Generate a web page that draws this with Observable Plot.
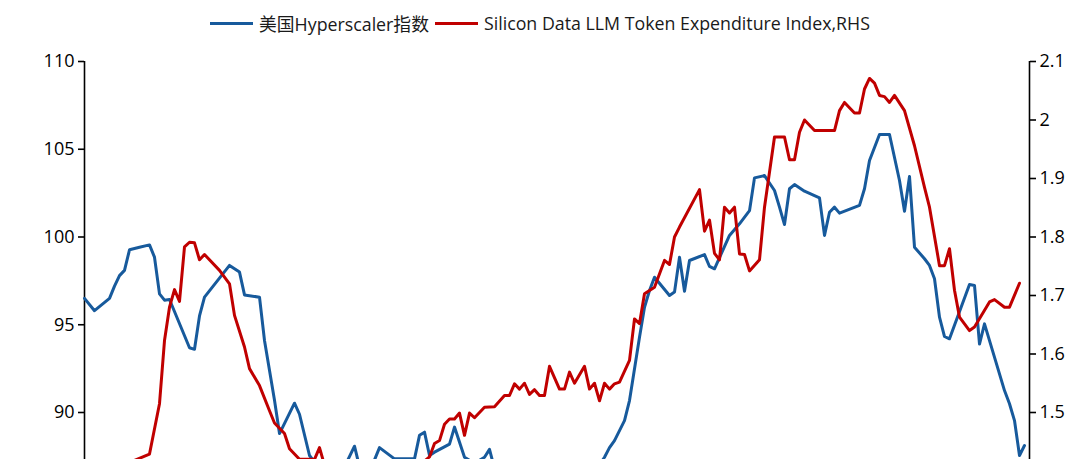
<!DOCTYPE html>
<html><head><meta charset="utf-8">
<script src="https://cdn.jsdelivr.net/npm/d3@7"></script>
<script src="https://cdn.jsdelivr.net/npm/@observablehq/plot@0.6"></script>
<style>
html,body{margin:0;padding:0;background:#fff;overflow:hidden;}
body{width:1080px;font-family:"Open Sans","Noto Sans CJK SC",sans-serif;}
#legend{height:46px;display:flex;justify-content:center;align-items:center;font-size:17.8px;color:#1a1a1a;}
.item{display:flex;align-items:center;margin:0 3px;}
.sw{width:43px;height:3px;margin-right:6px;}
</style></head>
<body>
<div id="legend"></div>
<div id="chart"></div>
<script>
const seriesNames = ["美国Hyperscaler指数", "Silicon Data LLM Token Expenditure Index,RHS"];
const seriesColors = ["#175A9C", "#C00000"];

const blueT = [0,2,5,6,7,8,9,11,13,14,15,16,17,21,22,23,24,29,31,32,35,36,38,39,42,43,45,47,50,52,54,55,57,59,62,66,67,68,69,70,73,74,76,78,80,81,82,86,92,98,102,104,105,106,108,109,111,112,113,114,117,118,119,120,121,124,125,126,129,131,133,134,136,138,139,140,141,142,144,147,148,149,150,151,155,156,157,159,161,163,164,165,166,168,169,170,171,172,173,177,178,179,180,184,185,186,187,188];
const blueV = [96.5,95.8,96.5,97.2,97.8,98.1,99.27,99.42,99.55,98.85,96.76,96.4,96.44,93.69,93.6,95.5,96.57,98.38,98.0,96.7,96.57,94.1,90.7,88.8,90.53,89.9,87.55,86.8,86.4,86.9,88.08,86.9,86.6,88.0,87.36,87.36,88.7,88.88,87.55,87.74,88.2,89.17,87.45,87.1,87.45,87.9,86.8,86.3,85.8,86.0,86.6,87.45,88.0,88.4,89.54,90.68,94.29,96.0,96.95,97.71,96.67,96.86,98.85,96.91,98.66,99.0,98.32,98.19,100.09,100.75,101.5,103.37,103.5,102.65,101.7,100.71,102.75,102.99,102.61,102.23,100.09,101.41,101.7,101.36,101.8,102.75,104.36,105.84,105.84,103.22,101.47,103.45,99.42,98.76,98.38,97.62,95.43,94.33,94.2,97.29,97.24,93.9,95.05,91.25,90.5,89.54,87.55,88.12];

const redT = [0,4,7,10,13,15,16,17,18,19,20,21,22,23,24,27,29,30,32,33,35,37,38,40,41,42,43,46,47,48,52,58,63,67,69,70,71,72,73,74,75,76,77,78,80,82,84,85,86,87,88,89,90,91,92,93,95,96,97,98,100,101,102,103,104,105,106,107,109,110,111,112,114,116,117,118,119,123,124,125,126,127,128,129,130,131,132,133,135,136,138,140,141,142,143,144,146,150,151,152,154,155,156,157,158,159,160,161,162,164,166,168,169,171,172,173,174,175,177,178,181,182,184,185,187];
const redV = [1.37,1.38,1.40,1.418,1.429,1.515,1.623,1.68,1.71,1.69,1.783,1.791,1.79,1.761,1.77,1.743,1.72,1.666,1.612,1.575,1.546,1.503,1.482,1.464,1.438,1.429,1.42,1.42,1.44,1.41,1.40,1.39,1.40,1.41,1.424,1.447,1.452,1.48,1.489,1.489,1.499,1.461,1.499,1.491,1.509,1.51,1.529,1.529,1.549,1.54,1.55,1.531,1.539,1.529,1.529,1.579,1.54,1.54,1.569,1.55,1.579,1.54,1.55,1.52,1.55,1.54,1.549,1.552,1.589,1.66,1.652,1.703,1.714,1.76,1.753,1.80,1.817,1.881,1.81,1.829,1.772,1.761,1.851,1.841,1.851,1.771,1.77,1.742,1.761,1.851,1.971,1.971,1.932,1.932,1.979,2.0,1.982,1.982,2.016,2.03,2.012,2.012,2.053,2.071,2.063,2.042,2.04,2.03,2.042,2.016,1.956,1.885,1.851,1.751,1.751,1.78,1.709,1.663,1.64,1.646,1.689,1.693,1.68,1.68,1.721];

const leftTicks = [90, 95, 100, 105, 110];
const rightTicks = [1.5, 1.6, 1.7, 1.8, 1.9, 2.0, 2.1];
const xDomain = [0, 189];
const leftDomain = [80, 110];
const rightDomain = [1.2, 2.1];

const toLeft = d3.scaleLinear().domain(rightDomain).range(leftDomain);
const toRight = (v) => toLeft.invert(v);

const blue = blueT.map((t, i) => ({t, v: blueV[i]}));
const red = redT.map((t, i) => ({t, v: toLeft(redV[i])}));

// legend
const legend = document.getElementById("legend");
seriesNames.forEach((n, i) => {
  const it = document.createElement("div");
  it.className = "item";
  const sw = document.createElement("div");
  sw.className = "sw";
  sw.style.background = seriesColors[i];
  const tx = document.createElement("span");
  tx.textContent = n;
  it.appendChild(sw); it.appendChild(tx);
  legend.appendChild(it);
});

const chart = Plot.plot({
  width: 1080,
  height: 574,
  marginTop: 15,
  marginLeft: 84,
  marginRight: 51,
  marginBottom: 32.5,
  x: {domain: xDomain, axis: null},
  y: {domain: leftDomain, axis: null},
  style: {fontFamily: '"Open Sans","Noto Sans CJK SC",sans-serif', fontSize: "18px", color: "#000", background: "#fff", overflow: "visible"},
  marks: [
    Plot.ruleX(xDomain, {stroke: "#000", strokeWidth: 1.6}),
    Plot.axisY({anchor: "left", ticks: leftTicks, tickSize: 6, tickPadding: 4, label: null, stroke: "#000", strokeWidth: 1.6, fontSize: 18}),
    Plot.axisY({anchor: "right", ticks: rightTicks.map(toLeft), tickFormat: (d) => String(Math.round(toRight(d) * 10) / 10), tickSize: 6, tickPadding: 4, label: null, stroke: "#000", strokeWidth: 1.6, fontSize: 18}),
    Plot.lineY(blue, {x: "t", y: "v", stroke: seriesColors[0], strokeWidth: 3, strokeLinejoin: "round"}),
    Plot.lineY(red, {x: "t", y: "v", stroke: seriesColors[1], strokeWidth: 3, strokeLinejoin: "round"})
  ]
});
document.getElementById("chart").appendChild(chart);
</script>
</body></html>
